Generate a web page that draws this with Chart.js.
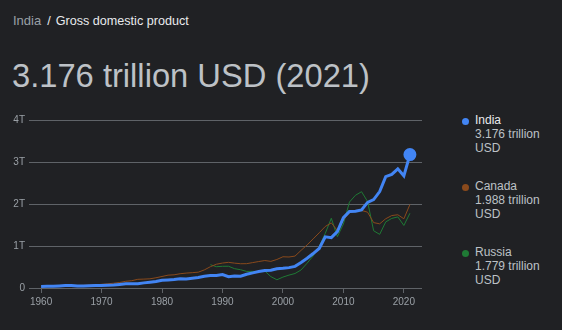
<!DOCTYPE html>
<html>
<head>
<meta charset="utf-8">
<script src="https://cdn.jsdelivr.net/npm/chart.js@4.4.1/dist/chart.umd.min.js"></script>
<style>
  body { margin: 0; background: #202124; font-family: "Liberation Sans", Arial, sans-serif; }
  #page { position: relative; width: 562px; height: 330px; overflow: hidden; background: #202124; }
  #crumb { position: absolute; left: 13px; top: 13px; font-size: 12.6px; color: #e8eaed; white-space: nowrap; }
  #crumb .country { color: #9aa0a6; font-size: 13px; }
  #crumb .sep { margin: 0 5px 0 6px; }
  #headline { position: absolute; left: 12px; top: 58px; font-size: 32.7px; color: #bdc1c6; white-space: nowrap; line-height: 36px; }
  #plot { position: absolute; left: 0; top: 110px; width: 430px; height: 200px; }
  .entry { position: absolute; left: 475px; font-size: 12px; line-height: 14px; color: #bdc1c6; }
  .entry .name { color: #bdc1c6; }
  .entry .dot { position: absolute; left: -13px; top: 5px; width: 7px; height: 7px; border-radius: 50%; }
</style>
</head>
<body>
<div id="page">
  <div id="crumb"><span class="country">India</span><span class="sep">/</span>Gross domestic product</div>
  <div id="headline"></div>
  <div id="plot"><canvas id="gdp"></canvas></div>
  <div id="legend"></div>
</div>
<script>
// GDP in trillions of current US dollars
const years = [1960, 1961, 1962, 1963, 1964, 1965, 1966, 1967, 1968, 1969,
  1970, 1971, 1972, 1973, 1974, 1975, 1976, 1977, 1978, 1979,
  1980, 1981, 1982, 1983, 1984, 1985, 1986, 1987, 1988, 1989,
  1990, 1991, 1992, 1993, 1994, 1995, 1996, 1997, 1998, 1999,
  2000, 2001, 2002, 2003, 2004, 2005, 2006, 2007, 2008, 2009,
  2010, 2011, 2012, 2013, 2014, 2015, 2016, 2017, 2018, 2019,
  2020, 2021];

const india = [0.037, 0.039, 0.042, 0.048, 0.057, 0.059, 0.046, 0.050, 0.053, 0.059,
  0.062, 0.067, 0.071, 0.085, 0.100, 0.099, 0.103, 0.122, 0.138, 0.153,
  0.186, 0.193, 0.201, 0.219, 0.212, 0.233, 0.248, 0.279, 0.296, 0.297,
  0.321, 0.270, 0.288, 0.279, 0.328, 0.360, 0.393, 0.416, 0.421, 0.459,
  0.468, 0.485, 0.515, 0.608, 0.709, 0.820, 0.940, 1.217, 1.199, 1.342,
  1.676, 1.823, 1.828, 1.857, 2.039, 2.104, 2.295, 2.652, 2.703, 2.836,
  2.671, 3.176];

const canada = [0.041, 0.041, 0.042, 0.045, 0.049, 0.053, 0.059, 0.063, 0.068, 0.075,
  0.088, 0.099, 0.114, 0.131, 0.160, 0.174, 0.207, 0.212, 0.219, 0.244,
  0.274, 0.306, 0.314, 0.340, 0.355, 0.365, 0.377, 0.431, 0.507, 0.566,
  0.594, 0.611, 0.592, 0.578, 0.579, 0.605, 0.630, 0.654, 0.634, 0.679,
  0.744, 0.738, 0.760, 0.896, 1.026, 1.169, 1.315, 1.465, 1.550, 1.371,
  1.617, 1.793, 1.828, 1.847, 1.805, 1.557, 1.528, 1.649, 1.725, 1.744,
  1.648, 1.988];

// Russia series begins in 1988
const russiaYears = [1988, 1989,
  1990, 1991, 1992, 1993, 1994, 1995, 1996, 1997, 1998, 1999,
  2000, 2001, 2002, 2003, 2004, 2005, 2006, 2007, 2008, 2009,
  2010, 2011, 2012, 2013, 2014, 2015, 2016, 2017, 2018, 2019,
  2020, 2021];
const russia = [0.555, 0.507,
  0.517, 0.518, 0.460, 0.435, 0.395, 0.396, 0.392, 0.405, 0.271, 0.196,
  0.260, 0.307, 0.345, 0.430, 0.591, 0.764, 0.990, 1.300, 1.661, 1.223,
  1.525, 2.046, 2.208, 2.293, 2.059, 1.363, 1.277, 1.574, 1.657, 1.693,
  1.489, 1.779];

const yTicks = [0, 1, 2, 3, 4];
const xTicks = [1960, 1970, 1980, 1990, 2000, 2010, 2020];

const series = [
  { name: 'India', x: years, y: india, color: '#4285f4', width: 3 },
  { name: 'Canada', x: years, y: canada, color: '#8a4a1c', width: 1 },
  { name: 'Russia', x: russiaYears, y: russia, color: '#1f7a35', width: 1 }
];

const latest = india[india.length - 1];
document.getElementById('headline').textContent =
  latest.toFixed(3) + ' trillion USD (' + years[years.length - 1] + ')';

// side legend with the latest value of each country
const legend = document.getElementById('legend');
series.forEach((s, i) => {
  const el = document.createElement('div');
  el.className = 'entry';
  el.style.top = (113 + i * 66) + 'px';
  const last = s.y[s.y.length - 1];
  el.innerHTML = '<span class="dot" style="background:' + s.color + '"></span>' +
    '<span class="name"' + (i === 0 ? ' style="color:#e8eaed"' : '') + '>' + s.name + '</span><br>' +
    last.toFixed(3) + ' trillion<br>USD';
  legend.appendChild(el);
});

const tickFont = { family: '"Liberation Sans", Arial, sans-serif', size: 10 };

new Chart(document.getElementById('gdp'), {
  type: 'line',
  data: {
    datasets: series.map((s, i) => ({
      label: s.name,
      data: s.x.map((yr, k) => ({ x: yr, y: s.y[k] })),
      borderColor: s.color,
      backgroundColor: s.color,
      borderWidth: s.width,
      pointRadius: i === 0 ? (c => c.dataIndex === s.y.length - 1 ? 5 : 0) : 0,
      pointHoverRadius: 0,
      tension: 0,
      fill: false
    }))
  },
  options: {
    animation: false,
    responsive: true,
    maintainAspectRatio: false,
    layout: { padding: { top: 10, right: 8, left: 0, bottom: 0 } },
    plugins: { legend: { display: false }, tooltip: { enabled: false } },
    scales: {
      x: {
        type: 'linear',
        min: 1958,
        max: 2023,
        afterBuildTicks: axis => { axis.ticks = xTicks.map(v => ({ value: v })); },
        afterFit: axis => { axis.height = 22; },
        grid: { drawOnChartArea: false, drawTicks: true, tickLength: 5, color: '#5f6368' },
        border: { display: false },
        ticks: { color: '#9aa0a6', font: tickFont, padding: 3, maxRotation: 0, callback: v => String(v) }
      },
      y: {
        min: 0,
        max: 4,
        afterBuildTicks: axis => { axis.ticks = yTicks.map(v => ({ value: v })); },
        afterFit: axis => { axis.width = 29; },
        grid: { drawTicks: false, color: '#5f6368', lineWidth: 1 },
        border: { display: false },
        ticks: { color: '#9aa0a6', font: tickFont, padding: 4, callback: v => v === 0 ? '0' : v + 'T' }
      }
    }
  }
});
</script>
</body>
</html>
